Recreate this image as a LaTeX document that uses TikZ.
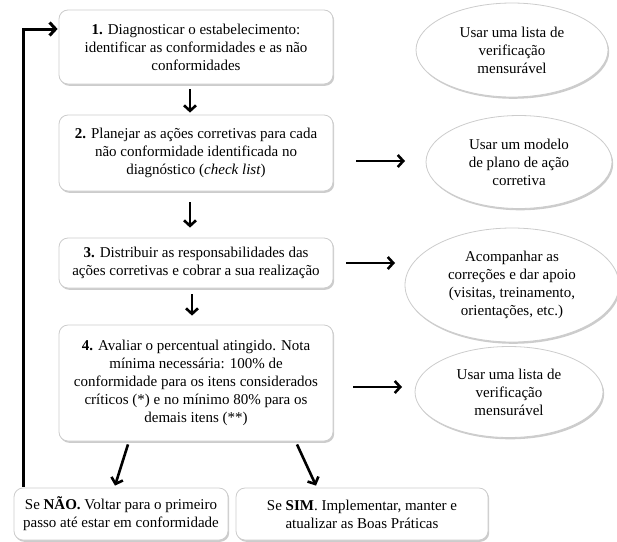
\documentclass[tikz,border=0pt]{standalone}
\usepackage{fontspec}
\setmainfont{Liberation Serif}
\usetikzlibrary{shapes.geometric,shadows,arrows.meta}
\begin{document}
\begin{tikzpicture}[x=1pt,y=-1pt,
  every node/.style={font=\fontsize{15}{18}\selectfont, align=center, inner sep=0pt},
  stepbox/.style={rectangle, rounded corners=9pt, draw=gray!40, fill=white, line width=0.8pt,
    drop shadow={opacity=0.4, shadow xshift=1.2pt, shadow yshift=-1.8pt, fill=gray}},
  oval/.style={ellipse, draw=gray!40, fill=white, line width=0.8pt,
    drop shadow={opacity=0.4, shadow xshift=1.2pt, shadow yshift=-1.8pt, fill=gray}},
  arr/.style={line width=2.6pt, -{Straight Barb[length=5.5pt,width=12pt]}},
  loopline/.style={line width=3pt, -{Straight Barb[length=6pt,width=13pt]}}]
\useasboundingbox (0,0) rectangle (617,541);

% step boxes
\node[stepbox, minimum width=274pt, minimum height=74pt] (b1) at (196,47)
  {\textbf{1.} Diagnosticar o estabelecimento:\\ identificar as conformidades e as não\\ conformidades};
\node[stepbox, minimum width=274pt, minimum height=76pt] (b2) at (196,153)
  {\textbf{2.} Planejar as ações corretivas para cada\\ não conformidade identificada no\\ diagnóstico (\textit{check list})};
\node[stepbox, minimum width=274pt, minimum height=50pt] (b3) at (196,263)
  {\textbf{3.} Distribuir as responsabilidades das\\ ações corretivas e cobrar a sua realização};
\node[stepbox, minimum width=274pt, minimum height=116pt] (b4) at (196,383)
  {\textbf{4.} Avaliar o percentual atingido. Nota\\ mínima necessária: 100\% de\\ conformidade para os itens considerados\\ críticos (*) e no mínimo 80\% para os\\ demais itens (**)};
\node[stepbox, minimum width=214pt, minimum height=52pt] (bn) at (121,514)
  {Se \textbf{NÃO.} Voltar para o primeiro\\ passo até estar em conformidade};
\node[stepbox, minimum width=252pt, minimum height=52pt] (bs) at (362,514)
  {Se \textbf{SIM}. Implementar, manter e\\ atualizar as Boas Práticas};

% ellipses
\node[oval, minimum width=192pt, minimum height=94pt] (e1) at (512,50)
  {Usar uma lista de\\ verificação\\ mensurável};
\node[oval, minimum width=186pt, minimum height=93pt] (e2) at (519,162)
  {Usar um modelo\\ de plano de ação\\ corretiva};
\node[oval, minimum width=214pt, minimum height=114pt] (e3) at (512,285)
  {Acompanhar as\\ correções e dar apoio\\ (visitas, treinamento,\\ orientações, etc.)};
\node[oval, minimum width=188pt, minimum height=91pt] (e4) at (509,392)
  {Usar uma lista de\\ verificação\\ mensurável};

% right arrows (free-standing)
\coordinate (r2s) at (356,161); \coordinate (r2e) at (405,161);
\coordinate (r3s) at (346,263); \coordinate (r3e) at (395,263);
\coordinate (r4s) at (353,387); \coordinate (r4e) at (402,387);
\draw[arr] (r2s) -- (r2e);
\draw[arr] (r3s) -- (r3e);
\draw[arr] (r4s) -- (r4e);

% down arrows
\draw[arr, shorten <=5pt, shorten >=2pt] ([xshift=-6pt]b1.south) -- ([xshift=-6pt]b2.north);
\draw[arr, shorten <=11pt, shorten >=10pt] ([xshift=-6pt]b2.south) -- ([xshift=-6pt]b3.north);
\draw[arr, shorten <=6pt, shorten >=9pt] ([xshift=-4pt]b3.south) -- ([xshift=-4pt]b4.north);

% branch arrows
\draw[arr] ([xshift=-68pt,yshift=-3pt]b4.south) -- ([xshift=-6pt,yshift=2pt]bn.north);
\draw[arr] ([xshift=101pt,yshift=-3pt]b4.south) -- ([xshift=-46pt,yshift=2pt]bs.north);

% loop back
\draw[loopline] ([xshift=-98pt,yshift=1pt]bn.north) |- ([xshift=-1pt,yshift=18pt]b1.west);
\end{tikzpicture}
\end{document}
